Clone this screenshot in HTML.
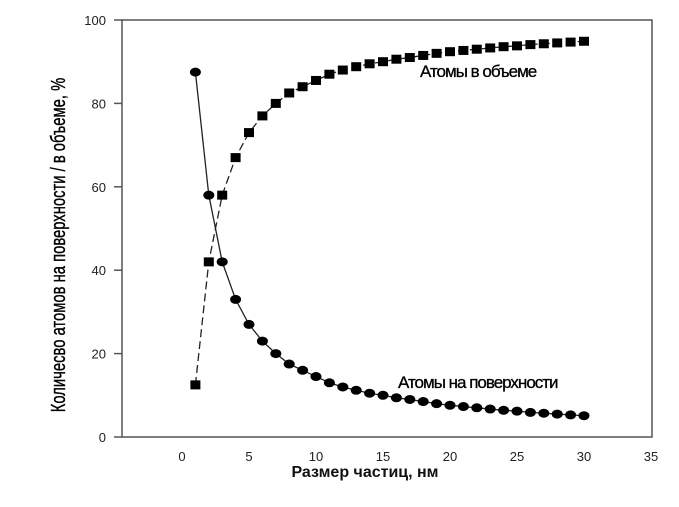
<!DOCTYPE html>
<html><head><meta charset="utf-8"><style>
body{margin:0;background:#fff}
svg{display:block;font-family:"Liberation Sans",sans-serif}
</style></head><body>
<svg id="chart" width="679" height="507" viewBox="0 0 679 507">
<rect x="122" y="20" width="530" height="417" fill="none" stroke="#555" stroke-width="1.5"/>
<g id="axes"></g>
<g id="series"></g>
<text x="420" y="77" font-size="17" letter-spacing="-1" fill="#000" stroke="#000" stroke-width="0.3">Атомы в объеме</text>
<text x="398" y="388" font-size="17" letter-spacing="-1" fill="#000" stroke="#000" stroke-width="0.3">Атомы на поверхности</text>
<text x="365" y="477" font-size="16" font-weight="bold" text-anchor="middle" fill="#111">Размер  частиц, нм</text>
<text transform="translate(65,245) rotate(-90) scale(0.74,1)" font-size="20" text-anchor="middle" fill="#000" stroke="#000" stroke-width="0.4">Количесво атомов на поверхности / в объеме, %</text>
</svg>
<script>
const sizes=[1,2,3,4,5,6,7,8,9,10,11,12,13,14,15,16,17,18,19,20,21,22,23,24,25,26,27,28,29,30];
const surface=[87.5,58,42,33,27,23,20,17.5,16,14.5,13,12,11.2,10.5,10,9.4,9,8.5,8,7.6,7.3,7,6.7,6.4,6.2,5.9,5.7,5.5,5.3,5.1];
const volume=[12.5,42,58,67,73,77,80,82.5,84,85.5,87,88,88.8,89.5,90,90.6,91,91.5,92,92.4,92.7,93,93.3,93.6,93.8,94.1,94.3,94.5,94.7,94.9];
const xTicks=[0,5,10,15,20,25,30,35];
const yTicks=[0,20,40,60,80,100];
const NS="http://www.w3.org/2000/svg";
const X=v=>182+v*13.4, Y=v=>437-v*4.17;
const ax=document.getElementById('axes'), se=document.getElementById('series');
function mk(tag,at,parent){const e=document.createElementNS(NS,tag);for(const k in at)e.setAttribute(k,at[k]);parent.appendChild(e);return e;}
yTicks.forEach(t=>{
 const l=mk('line',{x1:114,x2:122,y1:Y(t),y2:Y(t),stroke:'#555','stroke-width':1.5},ax);
 
 
 const tx=mk('text',{x:106,y:Y(t)+5,'font-size':13,'text-anchor':'end',fill:'#222'},ax);
 tx.textContent=t;
 
 
});
xTicks.forEach(t=>{
 const tx=mk('text',{x:X(t),y:461,'font-size':13,'text-anchor':'middle',fill:'#222'},ax);
 tx.textContent=t;
 
 
});
const pv=mk('polyline',{points:sizes.map((s,i)=>X(s)+','+Y(volume[i])).join(' '),fill:'none',stroke:'#222','stroke-width':1.3,'stroke-dasharray':'8,4'},se);


const ps=mk('polyline',{points:sizes.map((s,i)=>X(s)+','+Y(surface[i])).join(' '),fill:'none',stroke:'#222','stroke-width':1.3},se);


sizes.forEach((s,i)=>{
 const r=mk('rect',{x:X(s)-5,y:Y(volume[i])-4.5,width:10,height:9,fill:'#000'},se);
 
 
 const c=mk('ellipse',{cx:X(s),cy:Y(surface[i]),rx:5.5,ry:4.5,fill:'#000'},se);
 
 
});
</script>
</body></html>
